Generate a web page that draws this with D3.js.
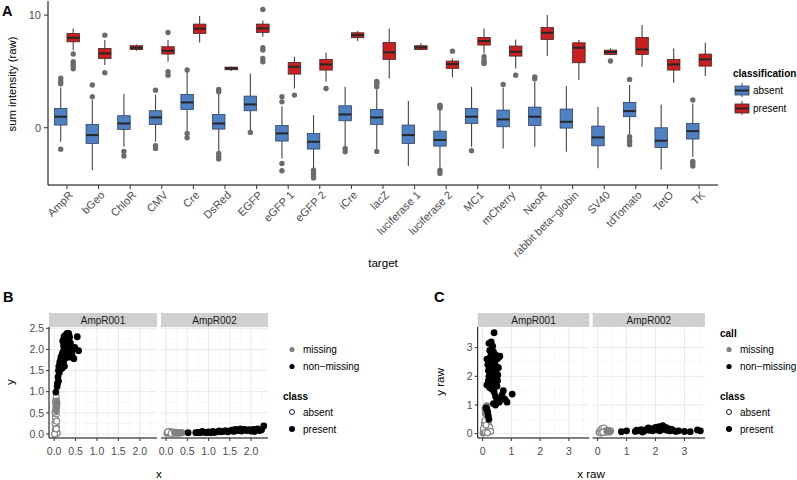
<!DOCTYPE html>
<html><head><meta charset="utf-8">
<script src="https://cdn.jsdelivr.net/npm/d3@7"></script>
<style>
body{margin:0;background:#fff;}
text{font-family:"Liberation Sans",Arial,Helvetica,sans-serif;}
</style></head>
<body><svg id="c" width="797" height="480"></svg>
<script>
// ---------- Panel A data ----------
const targets = ["AmpR","bGeo","ChloR","CMV","Cre","DsRed","EGFP","eGFP 1","eGFP 2","iCre","lacZ","luciferase 1","luciferase 2","MC1","mCherry","NeoR","rabbit beta\u2212globin","SV40","tdTomato","TetO","TK"];
const classes = ["absent","present"];
// [whiskerLo, Q1, median, Q3, whiskerHi]
const absentStats = [
 [-1.24,0.24,0.98,1.72,3.58],[-3.76,-1.39,-0.65,0.30,2.46],[-1.69,-0.15,0.38,1.07,2.99],[-1.24,0.30,0.92,1.51,2.96],
 [-0.27,1.63,2.25,2.96,4.97],[-2.13,-0.12,0.38,1.18,2.99],[-0.20,1.51,2.07,2.81,4.82],[-2.72,-1.18,-0.50,0.20,1.92],
 [-3.60,-1.89,-1.24,-0.50,1.12],[-1.69,0.62,1.18,1.95,3.64],[-1.86,0.30,0.92,1.63,3.40],[-3.40,-1.39,-0.65,0.24,2.37],
 [-3.60,-1.63,-1.09,-0.30,1.57],[-1.69,0.38,0.98,1.72,3.64],[-1.83,0.09,0.74,1.57,3.58],[-1.69,0.21,0.98,1.83,4.08],
 [-2.13,-0.03,0.53,1.66,3.70],[-3.60,-1.60,-0.86,0.15,1.86],[-0.65,0.98,1.48,2.25,3.79],[-3.70,-1.75,-1.15,0.00,2.07],
 [-2.57,-1.00,-0.30,0.38,2.16]];
const presentStats = [
 [6.89,7.63,7.99,8.37,8.82],[5.56,6.15,6.60,7.04,7.78],[6.83,6.95,7.10,7.28,7.40],[5.86,6.54,6.83,7.19,7.78],
 [7.57,8.37,8.79,9.20,9.91],[5.03,5.15,5.27,5.38,5.42],[8.08,8.46,8.82,9.20,9.50],[3.49,4.76,5.41,5.80,6.30],
 [4.08,5.12,5.62,6.07,6.69],[7.69,7.99,8.22,8.43,8.58],[4.38,6.07,6.69,7.57,8.82],[6.89,6.95,7.13,7.28,7.49],
 [4.47,5.27,5.65,5.92,6.15],[6.60,7.34,7.69,8.02,8.82],[5.27,6.36,6.75,7.25,7.84],[6.36,7.84,8.43,8.90,10.0],
 [4.23,5.77,7.10,7.54,7.78],[6.45,6.51,6.72,6.89,7.04],[5.41,6.51,6.95,8.02,9.11],[3.99,5.12,5.62,6.07,7.04],
 [4.59,5.47,6.07,6.54,7.54]];
const absentOutliers = [
 [3.9,4.1,4.4,-1.9],[2.75,3.79],[-2.1,-2.5],[3.34,-1.6,-1.83],[5.12,-0.5,-0.89],[3.2,3.4,-2.28,-2.57,-2.78],[-0.41],
 [2.3,2.75,-3.17,-3.82],[-3.76,-4.05,-4.29,-4.45],[-1.83,-2.13],[3.64,3.9,4.0,4.1,-2.1],[],[1.75,1.9,2.0,-3.76,-4.05],
 [-2.04],[3.85],[4.35,4.5],[],[],[4.29,-0.8,-1.1,-1.3,-1.5],[],[2.46,-3.0,-3.2,-3.4]];
const presentOutliers = [
 [6.54,5.87,5.65,5.5,5.24],[8.22,4.88],[],[8.46,4.97,4.67],[],[],[10.5,7.1,6.9,6.15,5.86],[2.9],[3.49],[],[],[],[6.8],
 [6.3,6.0,5.8,5.7],[4.67],[],[],[5.92],[],[],[]];
const yTicksA = [0,10];

// ---------- Panel B data (x, y) ----------
const bFacets = ["AmpR001","AmpR002"];
const b1Absent = [[0.02,0.02],[0.04,0.05],[0.03,0.1],[0.05,0.18],[0.02,0.25],[0.04,0.32],[0.03,0.4],[0.05,0.47],[0.02,0.52],[0.04,0.6],[0.06,0.05],[0.07,0.02],[0.01,0.0],[0.05,0.12],[0.03,0.78],[0.05,0.88],[0.04,0.7],[0.06,0.3]];
const b1Missing = [[0.05,0.55],[0.06,0.62],[0.05,0.68],[0.07,0.72],[0.06,0.78],[0.05,0.66]];
const b1Present = [[0.04,0.99],[0.07,1.12],[0.08,1.2],[0.1,1.25],[0.09,1.35],[0.1,1.5],[0.12,1.55],[0.11,1.6],[0.14,1.58],[0.13,1.7],[0.15,1.75],[0.17,1.65],[0.16,1.82],[0.18,1.55],[0.19,1.9],[0.2,1.78],[0.21,1.95],[0.22,1.7],[0.23,2.05],[0.24,1.85],[0.25,2.15],[0.26,1.95],[0.27,2.25],[0.28,2.0],[0.29,2.3],[0.3,1.88],[0.31,2.1],[0.32,2.35],[0.33,2.2],[0.34,2.38],[0.35,2.0],[0.36,2.28],[0.37,1.95],[0.38,2.15],[0.4,2.05],[0.42,1.85],[0.44,2.0],[0.46,1.78],[0.48,2.05],[0.54,2.3],[0.57,1.97],[0.2,2.2],[0.23,2.3],[0.26,2.33],[0.3,2.25],[0.24,1.6],[0.28,1.8],[0.33,1.9],[0.36,1.82],[0.4,1.95],[0.18,1.72],[0.15,1.6],[0.12,1.45],[0.22,2.1],[0.35,2.32],[0.3,2.38]];
const b2Absent = [[0.02,0.02],[0.05,0.03],[0.08,0.06],[0.1,0.03],[0.14,0.05],[0.18,0.02],[0.22,0.04],[0.26,0.03],[0.3,0.02],[0.34,0.03],[0.04,0.05],[0.12,0.01]];
const b2Missing = [[0.2,0.03],[0.25,0.02],[0.32,0.04],[0.38,0.03]];
const b2Present = [[0.52,0.03],[0.7,0.03],[0.75,0.04],[0.8,0.03],[0.85,0.06],[0.9,0.04],[0.95,0.03],[1.0,0.05],[1.05,0.03],[1.1,0.06],[1.15,0.04],[1.2,0.05],[1.25,0.07],[1.3,0.05],[1.35,0.06],[1.4,0.08],[1.45,0.05],[1.5,0.07],[1.55,0.09],[1.6,0.06],[1.65,0.1],[1.7,0.08],[1.75,0.12],[1.8,0.09],[1.85,0.11],[1.9,0.08],[1.95,0.1],[2.0,0.07],[2.05,0.11],[2.1,0.09],[2.15,0.12],[2.2,0.08],[2.25,0.1],[2.3,0.19],[1.12,0.04],[1.62,0.1],[1.78,0.07],[2.08,0.06]];
const bTicks = [0,0.5,1,1.5,2,2.5];

// ---------- Panel C data (x raw, y raw) ----------
const c1Absent = [[0.02,0.02],[0.05,0.05],[0.08,0.1],[0.12,0.15],[0.15,0.2],[0.1,0.25],[0.2,0.3],[0.06,0.35],[0.18,0.4],[0.14,0.5],[0.22,0.12],[0.25,0.22],[0.03,0.18],[0.1,0.05],[0.28,0.08],[0.17,0.03],[0.08,0.45],[0.12,0.3]];
const c1Missing = [[0.08,0.88],[0.12,0.95],[0.14,0.8],[0.1,0.75],[0.16,0.98],[0.09,0.7]];
const c1Present = [[0.4,3.52],[0.22,3.15],[0.3,3.2],[0.35,3.05],[0.25,2.9],[0.15,2.6],[0.2,2.55],[0.28,2.7],[0.38,2.85],[0.45,2.75],[0.5,2.6],[0.55,2.65],[0.6,2.7],[0.18,2.4],[0.25,2.45],[0.33,2.5],[0.42,2.45],[0.48,2.35],[0.55,2.3],[0.2,2.2],[0.3,2.25],[0.4,2.15],[0.47,2.2],[0.53,2.05],[0.22,2.0],[0.32,2.05],[0.38,1.95],[0.45,1.9],[0.52,1.85],[0.28,1.8],[0.35,1.75],[0.42,1.7],[0.5,1.65],[0.15,1.7],[0.25,1.6],[0.33,1.55],[0.4,1.45],[0.45,1.3],[0.5,1.2],[0.38,1.05],[0.45,1.0],[0.55,1.15],[0.62,1.25],[0.72,1.5],[0.68,1.35],[0.78,1.2],[0.85,1.1],[1.03,1.38],[0.58,1.1],[0.3,2.35],[0.36,2.6],[0.43,2.3],[0.2,1.85],[0.26,2.1],[0.12,0.9],[0.18,0.75],[0.2,0.62],[0.22,0.5],[0.15,0.85]];
const c2Absent = [[0.05,0.05],[0.1,0.12],[0.15,0.18],[0.2,0.08],[0.25,0.15],[0.3,0.05],[0.35,0.12],[0.4,0.08],[0.45,0.1],[0.12,0.02],[0.22,0.2],[0.28,0.1],[0.18,0.05]];
const c2Missing = [[0.38,0.1],[0.42,0.06],[0.32,0.09]];
const c2Present = [[0.82,0.07],[1.0,0.1],[1.3,0.08],[1.35,0.12],[1.45,0.1],[1.5,0.14],[1.6,0.09],[1.7,0.15],[1.75,0.2],[1.8,0.12],[1.85,0.18],[1.9,0.1],[1.95,0.16],[2.0,0.22],[2.05,0.13],[2.1,0.18],[2.15,0.1],[2.2,0.2],[2.25,0.28],[2.3,0.15],[2.35,0.22],[2.4,0.12],[2.45,0.18],[2.5,0.1],[2.55,0.15],[2.6,0.12],[2.7,0.08],[2.8,0.1],[3.0,0.08],[3.2,0.07],[3.45,0.13],[3.55,0.1],[1.55,0.06],[2.12,0.25],[1.65,0.12]];
const cTicks = [0,1,2,3];

// ---------- styles ----------
const fillCol = {absent:"#4f80c2", present:"#c82020"};
const lineCol = {absent:"#2e4266", present:"#4a2222"};
const textCol = "#4d4d4d";
const svg = d3.select("#c");

// ================= Panel A =================
const A = {l:48, r:718, t:1, b:185};
const xA = d3.scalePoint().domain(targets).range([A.l, A.r]).padding(0.6);
const yA = d3.scaleLinear().domain([-5.08, 11.25]).range([A.b, A.t]);
const boxW = 12.5;
const gA = svg.append("g");

function drawBoxes(stats, outl, cls, off){
  const g = gA.append("g");
  targets.forEach((t,i)=>{
    const s = stats[i]; const cx = xA(t)+off;
    g.append("line").attr("x1",cx).attr("x2",cx).attr("y1",yA(s[0])).attr("y2",yA(s[1])).attr("stroke","#444").attr("stroke-width",1.1);
    g.append("line").attr("x1",cx).attr("x2",cx).attr("y1",yA(s[3])).attr("y2",yA(s[4])).attr("stroke","#444").attr("stroke-width",1.1);
    g.append("rect").attr("x",cx-boxW/2).attr("width",boxW).attr("y",yA(s[3])).attr("height",yA(s[1])-yA(s[3]))
      .attr("fill",fillCol[cls]).attr("stroke",lineCol[cls]).attr("stroke-width",0.8);
    g.append("line").attr("x1",cx-boxW/2).attr("x2",cx+boxW/2).attr("y1",yA(s[2])).attr("y2",yA(s[2])).attr("stroke","#262626").attr("stroke-width",2);
    outl[i].forEach(v=>g.append("circle").attr("cx",cx).attr("cy",yA(v)).attr("r",2.7).attr("fill","#6b6b6b"));
  });
}
drawBoxes(absentStats, absentOutliers, "absent", -boxW/2);
drawBoxes(presentStats, presentOutliers, "present", boxW/2);

// axes A
gA.append("line").attr("x1",A.l).attr("x2",A.l).attr("y1",A.t).attr("y2",A.b).attr("stroke","#000").attr("stroke-width",1);
gA.append("line").attr("x1",A.l).attr("x2",A.r).attr("y1",A.b).attr("y2",A.b).attr("stroke","#000").attr("stroke-width",1);
yTicksA.forEach(v=>{
  gA.append("line").attr("x1",A.l-4).attr("x2",A.l).attr("y1",yA(v)).attr("y2",yA(v)).attr("stroke","#333");
  gA.append("text").attr("x",A.l-7).attr("y",yA(v)).attr("dy","0.35em").attr("text-anchor","end").attr("font-size",11).attr("fill",textCol).text(v);
});
targets.forEach(t=>{
  const x = xA(t);
  gA.append("line").attr("x1",x).attr("x2",x).attr("y1",A.b).attr("y2",A.b+4).attr("stroke","#333");
  gA.append("text").attr("transform",`translate(${x+4},${A.b+8}) rotate(-45)`).attr("text-anchor","end").attr("dy","0.35em")
    .attr("font-size",11).attr("fill",textCol).text(t);
});
gA.append("text").attr("x",383).attr("y",267).attr("text-anchor","middle").attr("font-size",11.6).attr("fill","#000").text("target");
gA.append("text").attr("transform","translate(16,84) rotate(-90)").attr("text-anchor","middle").attr("font-size",11.3).attr("fill","#000").text("sum intensity (raw)");
gA.append("text").attr("x",2).attr("y",16).attr("font-size",14.5).attr("font-weight","bold").text("A");

// legend A
gA.append("text").attr("x",733).attr("y",77).attr("font-size",10).attr("font-weight","bold").text("classification");
classes.forEach((c,i)=>{
  const y0 = 84 + i*18;
  const kx = 735, kw = 14;
  gA.append("line").attr("x1",kx+kw/2).attr("x2",kx+kw/2).attr("y1",y0-1).attr("y2",y0+13).attr("stroke","#444");
  gA.append("rect").attr("x",kx).attr("y",y0+2).attr("width",kw).attr("height",9).attr("fill",fillCol[c]).attr("stroke",lineCol[c]).attr("stroke-width",0.8);
  gA.append("line").attr("x1",kx).attr("x2",kx+kw).attr("y1",y0+6.5).attr("y2",y0+6.5).attr("stroke","#262626").attr("stroke-width",2);
  gA.append("text").attr("x",753).attr("y",y0+6.5).attr("dy","0.35em").attr("font-size",10).attr("fill","#000").text(c);
});

// ================= Scatter panels =================
function scatterPanel(cfg){
  const g = svg.append("g");
  const y = d3.scaleLinear().domain(cfg.yDom).range([438,327]);
  cfg.facets.forEach((f,fi)=>{
    const x = d3.scaleLinear().domain(cfg.xDom).range(f.range);
    const [x0,x1] = f.range;
    // grid
    cfg.minor.forEach(v=>{
      if(v>=cfg.xDom[0]&&v<=cfg.xDom[1]) g.append("line").attr("x1",x(v)).attr("x2",x(v)).attr("y1",327).attr("y2",438).attr("stroke","#f3f3f3").attr("stroke-width",0.6);
      if(v>=cfg.yDom[0]&&v<=cfg.yDom[1]) g.append("line").attr("x1",x0).attr("x2",x1).attr("y1",y(v)).attr("y2",y(v)).attr("stroke","#f3f3f3").attr("stroke-width",0.6);
    });
    cfg.ticks.forEach(v=>{
      if(v<=cfg.xDom[1]) g.append("line").attr("x1",x(v)).attr("x2",x(v)).attr("y1",327).attr("y2",438).attr("stroke","#e6e6e6").attr("stroke-width",0.9);
      if(v<=cfg.yDom[1]) g.append("line").attr("x1",x0).attr("x2",x1).attr("y1",y(v)).attr("y2",y(v)).attr("stroke","#e6e6e6").attr("stroke-width",0.9);
    });
    // strip
    g.append("rect").attr("x",x0).attr("y",313).attr("width",x1-x0).attr("height",14).attr("fill","#d0d0d0");
    g.append("text").attr("x",(x0+x1)/2).attr("y",320).attr("dy","0.35em").attr("text-anchor","middle").attr("font-size",10).attr("fill","#1a1a1a").text(cfg.names[fi]);
    // points: absent (open), missing (gray filled), present (black filled)
    f.absent.forEach(p=>g.append("circle").attr("cx",x(p[0])).attr("cy",y(p[1])).attr("r",3).attr("fill","#fff").attr("stroke","#808080").attr("stroke-width",1.1));
    f.missing.forEach(p=>g.append("circle").attr("cx",x(p[0])).attr("cy",y(p[1])).attr("r",3.4).attr("fill","#808080"));
    f.present.forEach(p=>g.append("circle").attr("cx",x(p[0])).attr("cy",y(p[1])).attr("r",3.4).attr("fill","#000"));
    // x axis
    g.append("line").attr("x1",x0).attr("x2",x1).attr("y1",438).attr("y2",438).attr("stroke","#000");
    cfg.xTicks.forEach(v=>{
      g.append("line").attr("x1",x(v)).attr("x2",x(v)).attr("y1",438).attr("y2",441).attr("stroke","#333");
      g.append("text").attr("x",x(v)).attr("y",451).attr("dy","0.35em").attr("text-anchor","middle").attr("font-size",10.5).attr("fill",textCol).text(cfg.fmt(v));
    });
    if(fi===0){
      g.append("line").attr("x1",x0).attr("x2",x0).attr("y1",327).attr("y2",438).attr("stroke","#000");
      cfg.ticks.forEach(v=>{
        g.append("line").attr("x1",x0-3).attr("x2",x0).attr("y1",y(v)).attr("y2",y(v)).attr("stroke","#333");
        g.append("text").attr("x",x0-5).attr("y",y(v)).attr("dy","0.35em").attr("text-anchor","end").attr("font-size",10.5).attr("fill",textCol).text(cfg.fmt(v));
      });
    }
  });
  g.append("text").attr("x",cfg.xTitleX).attr("y",478).attr("text-anchor","middle").attr("font-size",11.6).text(cfg.xTitle);
  g.append("text").attr("transform",`translate(${cfg.yTitleX},382) rotate(-90)`).attr("text-anchor","middle").attr("font-size",11.6).text(cfg.yTitle);
  g.append("text").attr("x",cfg.letterX).attr("y",302).attr("font-size",14.5).attr("font-weight","bold").text(cfg.letter);
  // legend
  const lx = cfg.legX;
  if(cfg.callTitle) g.append("text").attr("x",lx).attr("y",337).attr("font-size",10).attr("font-weight","bold").text(cfg.callTitle);
  [["missing","#808080",349.5],["non\u2212missing","#000",366.5]].forEach(d=>{
    g.append("circle").attr("cx",lx+9).attr("cy",d[2]).attr("r",2.6).attr("fill",d[1]);
    g.append("text").attr("x",lx+20).attr("y",d[2]).attr("dy","0.35em").attr("font-size",10).text(d[0]);
  });
  g.append("text").attr("x",lx).attr("y",400).attr("font-size",10).attr("font-weight","bold").text("class");
  g.append("circle").attr("cx",lx+9).attr("cy",412).attr("r",2.5).attr("fill","#fff").attr("stroke","#000").attr("stroke-width",0.9);
  g.append("text").attr("x",lx+20).attr("y",412).attr("dy","0.35em").attr("font-size",10).text("absent");
  g.append("circle").attr("cx",lx+9).attr("cy",429).attr("r",3).attr("fill","#000");
  g.append("text").attr("x",lx+20).attr("y",429).attr("dy","0.35em").attr("font-size",10).text("present");
}

scatterPanel({
  letter:"B", letterX:3, names:bFacets, yDom:[-0.095,2.53], xDom:[-0.12,2.4],
  ticks:bTicks, xTicks:[0,0.5,1,1.5,2], minor:[0.25,0.75,1.25,1.75,2.25],
  fmt:d3.format(".1f"),
  facets:[{range:[49,157],absent:b1Absent,missing:b1Missing,present:b1Present},
          {range:[161,268],absent:b2Absent,missing:b2Missing,present:b2Present}],
  xTitle:"x", xTitleX:159, yTitle:"y", yTitleX:14, legX:283, callTitle:null
});
scatterPanel({
  letter:"C", letterX:434, names:bFacets, yDom:[-0.15,3.72], xDom:[-0.17,3.71],
  ticks:cTicks, xTicks:cTicks, minor:[0.5,1.5,2.5,3.5],
  fmt:d3.format("d"),
  facets:[{range:[477.7,589.3],absent:c1Absent,missing:c1Missing,present:c1Present},
          {range:[592.7,705],absent:c2Absent,missing:c2Missing,present:c2Present}],
  xTitle:"x raw", xTitleX:591, yTitle:"y raw", yTitleX:444, legX:720, callTitle:"call"
});
</script></body></html>
